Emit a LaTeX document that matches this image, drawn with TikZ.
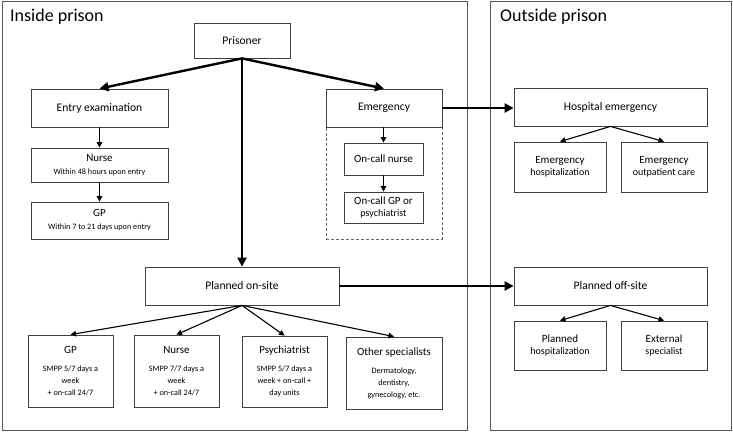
\documentclass[tikz,border=0pt]{standalone}
\usepackage{fontspec}
\setmainfont{Carlito}
\usetikzlibrary{arrows.meta}
\newcommand\szTitle{\fontsize{18}{21}\selectfont}
\newcommand\szMain{\fontsize{11.6}{14}\selectfont}
\newcommand\szMid{\fontsize{11}{13.5}\selectfont}
\newcommand\szSub{\fontsize{8.2}{10.5}\selectfont}
\begin{document}
\begin{tikzpicture}[x=1pt,y=-1pt,
  box/.style={draw=black!75, line width=0.8pt, inner sep=0pt, align=center, fill=white},
  frame/.style={draw=black!65, line width=0.9pt},
  bigarrow/.style={line width=2.4pt, -{Triangle[length=9pt,width=9pt]}},
  thinarrow/.style={line width=1.1pt, -{Triangle[length=5.5pt,width=5.5pt]}}]
\useasboundingbox (0,0) rectangle (733,432);
% frames
\draw[frame] (2,1) rectangle (467,430);
\draw[frame] (490,1) rectangle (731,430);
\node[anchor=west, inner sep=0pt] (tin) at (10,17) {\szTitle Inside prison};
\node[anchor=west, inner sep=0pt] (tout) at (500,17) {\szTitle Outside prison};
% dashed region
\node[draw=black!60, densely dashed, line width=0.6pt, minimum width=116pt, minimum height=112pt, inner sep=0pt] (dashbox) at (384,183) {};
% nodes
\node[box, minimum width=96pt, minimum height=35pt] (prisoner) at (242,40.5) {\szMain Prisoner};
\node[box, minimum width=137pt, minimum height=38pt] (entry) at (99.5,108) {\szMain Entry examination};
\node[box, minimum width=137pt, minimum height=34pt] (nurse1) at (99.5,165) {\szMid Nurse\\[1pt]\szSub Within 48 hours upon entry};
\node[box, minimum width=137pt, minimum height=37pt] (gp1) at (99.5,220.5) {\szMid GP\\[1pt]\szSub Within 7 to 21 days upon entry};
\node[box, minimum width=116pt, minimum height=38pt] (emerg) at (384,108) {\szMain Emergency};
\node[box, minimum width=79pt, minimum height=32pt] (oncn) at (383.5,159) {\szMid On-call nurse};
\node[box, minimum width=79pt, minimum height=31pt] (oncgp) at (383.5,207.5) {\szMid On-call GP or\\psychiatrist};
\node[box, minimum width=193pt, minimum height=38pt] (hosp) at (610.5,107) {\szMain Hospital emergency};
\node[box, minimum width=92pt, minimum height=50pt] (ehosp) at (560,167) {\szMid Emergency\\hospitalization};
\node[box, minimum width=86pt, minimum height=50pt] (eout) at (664,167) {\szMid Emergency\\outpatient care};
\node[box, minimum width=194pt, minimum height=38pt] (onsite) at (242,286) {\szMain Planned on-site};
\node[box, minimum width=193pt, minimum height=38pt] (offsite) at (610.5,286) {\szMain Planned off-site};
\node[box, minimum width=92pt, minimum height=49pt] (phosp) at (560,345.5) {\szMid Planned\\hospitalization};
\node[box, minimum width=86pt, minimum height=49pt] (ext) at (664,345.5) {\szMid External\\specialist};
\node[box, minimum width=85pt, minimum height=72pt] (gp2) at (70.5,371) {\szMid GP\\[6pt]\szSub SMPP 5/7 days a\\\szSub week\\\szSub + on-call 24/7};
\node[box, minimum width=85pt, minimum height=72pt] (nurse2) at (176.5,371) {\szMid Nurse\\[6pt]\szSub SMPP 7/7 days a\\\szSub week\\\szSub + on-call 24/7};
\node[box, minimum width=85pt, minimum height=71pt] (psy) at (284.5,371.5) {\szMid Psychiatrist\\[6pt]\szSub SMPP 5/7 days a\\\szSub week + on-call +\\\szSub day units};
\node[box, minimum width=96pt, minimum height=72pt] (other) at (394,373) {\szMid Other specialists\\[6pt]\szSub Dermatology,\\\szSub dentistry,\\\szSub gynecology, etc.};
% thick arrows
\draw[bigarrow] (prisoner.south) -- (entry.north);
\draw[bigarrow] (prisoner.south) -- (emerg.north);
\draw[bigarrow] (prisoner.south) -- (onsite.north);
\draw[bigarrow] (emerg.east) -- (hosp.west |- emerg.east);
\draw[bigarrow] (onsite.east) -- (offsite.west);
% thin arrows
\draw[thinarrow] (entry.south) -- (nurse1.north);
\draw[thinarrow] (nurse1.south) -- (gp1.north);
\draw[thinarrow] (emerg.south -| oncn.north) -- (oncn.north);
\draw[thinarrow] (oncn.south) -- (oncgp.north);
\draw[thinarrow] (hosp.south) -- (ehosp.north);
\draw[thinarrow] (hosp.south) -- (eout.north);
\draw[thinarrow] (offsite.south) -- (phosp.north);
\draw[thinarrow] (offsite.south) -- (ext.north);
\draw[thinarrow] (onsite.south) -- (gp2.north);
\draw[thinarrow] (onsite.south) -- (nurse2.north);
\draw[thinarrow] (onsite.south) -- (psy.north);
\draw[thinarrow] (onsite.south) -- (other.north);
\end{tikzpicture}
\end{document}
